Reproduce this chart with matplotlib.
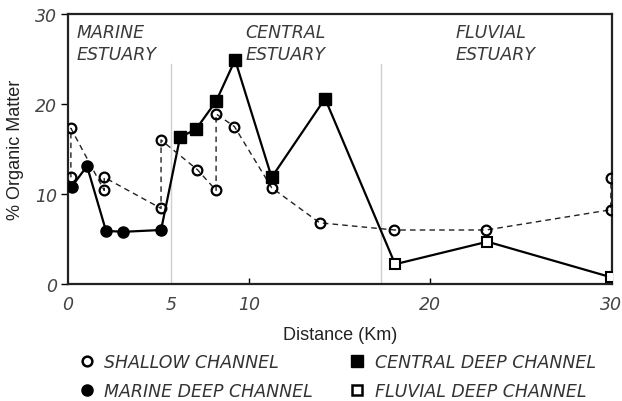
import matplotlib
matplotlib.use("Agg")
import matplotlib.pyplot as plt
from matplotlib.lines import Line2D

# ---------------- data ----------------
shallow_km = [0.16, 0.16, 2.0, 2.0, 5.14, 5.14, 7.15, 8.18, 8.18, 9.19, 11.25, 13.9, 18.03, 23.1, 29.98, 30.0]
shallow_om = [11.85, 17.3, 10.4, 11.85, 8.4, 16.0, 12.7, 10.4, 18.9, 17.5, 10.7, 6.8, 6.0, 6.0, 8.25, 11.8]

marine_km = [0.2, 1.05, 2.1, 3.06, 5.14]
marine_om = [10.8, 13.1, 5.9, 5.8, 6.0]

central_km = [6.19, 7.07, 8.18, 9.23, 11.25, 14.2]
central_om = [16.3, 17.2, 20.3, 24.9, 11.85, 20.6]

fluvial_km = [18.07, 23.17, 30.0]
fluvial_om = [2.2, 4.7, 0.75]

zone_bounds = [5.7, 17.3]
zone_names = ["MARINE\nESTUARY", "CENTRAL\nESTUARY", "FLUVIAL\nESTUARY"]
zone_text_x = [0.45, 9.8, 21.4]

xtick_pos = [0, 5.7, 10, 20, 30]
xtick_labels = ["0", "5", "10", "20", "30"]
ytick_pos = [0, 10, 20, 30]

legend_labels = ["SHALLOW CHANNEL", "MARINE DEEP CHANNEL", "CENTRAL DEEP CHANNEL", "FLUVIAL DEEP CHANNEL"]

# ---------------- figure ----------------
ital = dict(family="DejaVu Sans", style="italic", weight="normal")
fig = plt.figure(figsize=(6.22, 4.02), dpi=100)
ax = fig.add_axes([68/622, 1-285/402, (612-68)/622, (285-15)/402])
ax.set_xlim(0, 30.05)
ax.set_ylim(0, 30)

for xb in zone_bounds:
    ax.plot([xb, xb], [0, 24.4], color="#cfcfcf", lw=1.0, zorder=1)

for xt, name in zip(zone_text_x, zone_names):
    ax.text(xt, 29.0, name, ha="left", va="top", fontsize=12.5, color="#3a3a3a",
            linespacing=1.3, **ital)

deep_km = marine_km + central_km + fluvial_km
deep_om = marine_om + central_om + fluvial_om
ax.plot(deep_km, deep_om, color="black", lw=1.6, zorder=3)

ax.plot(shallow_km, shallow_om, color="#222222", lw=1.0, ls=(0, (4, 3)), zorder=4)
ax.plot(shallow_km, shallow_om, ls="none", marker="o", ms=7, mfc="none",
        mec="black", mew=1.6, zorder=5)

ax.plot(marine_km, marine_om, ls="none", marker="o", ms=8, mfc="black", mec="black", zorder=5)
ax.plot(central_km, central_om, ls="none", marker="s", ms=8, mfc="black", mec="black", zorder=5)
ax.plot(fluvial_km, fluvial_om, ls="none", marker="s", ms=7, mfc="white", mec="black", mew=1.5, zorder=5)

for s in ax.spines.values():
    s.set_linewidth(1.6)
    s.set_color("#222222")

ax.set_xticks(xtick_pos)
ax.set_xticklabels(xtick_labels, fontsize=12.5, color="#444444", **ital)
ax.set_yticks(ytick_pos)
ax.set_yticklabels([str(v) for v in ytick_pos], fontsize=12.5, color="#444444", **ital)
ax.tick_params(axis="x", direction="in", length=4, width=1, pad=8)
ax.tick_params(axis="y", direction="out", length=5, width=1, pad=3)
ax.xaxis.get_major_ticks()[1].tick1line.set_visible(False)
ax.xaxis.get_major_ticks()[0].tick1line.set_visible(False)

ax.set_xlabel("Distance (Km)", family="Liberation Sans", fontsize=13, color="#222222", labelpad=9)
ax.set_ylabel("% Organic Matter", family="Liberation Sans", fontsize=13, color="#222222", labelpad=8)

handles = [
    Line2D([], [], ls="none", marker="o", ms=7, mfc="white", mec="black", mew=1.8),
    Line2D([], [], ls="none", marker="o", ms=8, mfc="black", mec="black"),
    Line2D([], [], ls="none", marker="s", ms=8, mfc="black", mec="black"),
    Line2D([], [], ls="none", marker="s", ms=7, mfc="white", mec="black", mew=1.8),
]
leg = fig.legend(handles, legend_labels, ncol=2, loc="upper left",
                 bbox_to_anchor=(80/622, 1-354/402), frameon=False,
                 prop=dict(size=12.5, **ital), handlelength=0.8, handletextpad=0.6,
                 columnspacing=2.15, labelspacing=0.65, borderaxespad=0, borderpad=0)
for t in leg.get_texts():
    t.set_color("#333333")

fig.savefig("out.png", dpi=100)
